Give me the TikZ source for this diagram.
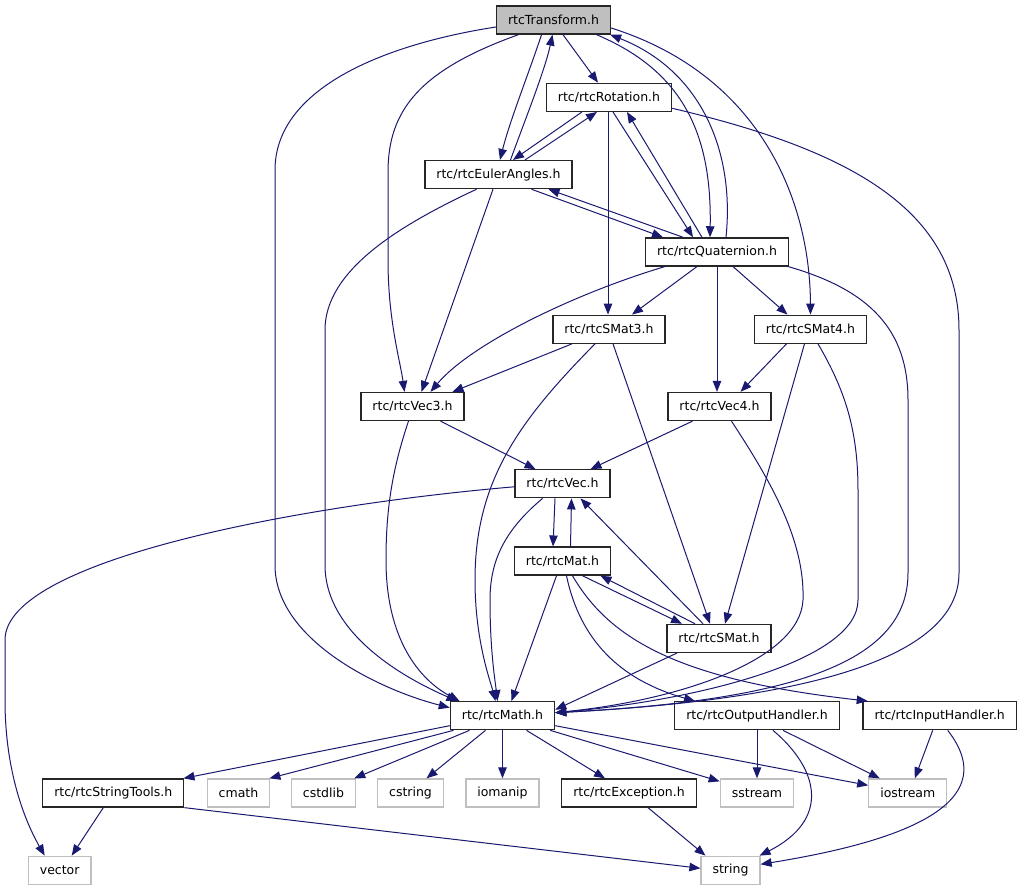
\documentclass[tikz,border=0pt]{standalone}
\usepackage{fontspec}
\setmainfont{DejaVu Sans}
\usetikzlibrary{arrows.meta}
\definecolor{edgeblue}{HTML}{191970}
\definecolor{sysgray}{HTML}{BFBFBF}
\tikzset{
  font=\fontsize{12.5}{15}\selectfont,
  hfile/.style={draw=black!85, line width=1.3pt, rectangle, minimum height=28pt, inner xsep=11.5pt, inner ysep=0pt},
  mainfile/.style={hfile, fill=sysgray},
  sysfile/.style={hfile, draw=sysgray},
  dep/.style={draw=edgeblue, line width=1pt, -{Triangle[length=11pt,width=8.5pt]}}
}
\begin{document}
\begin{tikzpicture}[x=1pt, y=-1pt]
        \useasboundingbox (0,0) rectangle (1021,891);
        \node[mainfile] (transform) at (553.5,20) {rtcTransform.h};
        \node[hfile] (rotation) at (609,97.3) {rtc/rtcRotation.h};
        \node[hfile] (eulerangles) at (498.5,174.6) {rtc/rtcEulerAngles.h};
        \node[hfile] (quaternion) at (717,251.9) {rtc/rtcQuaternion.h};
        \node[hfile] (smat3) at (609,329.2) {rtc/rtcSMat3.h};
        \node[hfile] (smat4) at (810.5,329.2) {rtc/rtcSMat4.h};
        \node[hfile] (vec3) at (412.5,406.5) {rtc/rtcVec3.h};
        \node[hfile] (vec4) at (719.5,406.5) {rtc/rtcVec4.h};
        \node[hfile] (vec) at (562.5,483.8) {rtc/rtcVec.h};
        \node[hfile] (mat) at (562.5,561.1) {rtc/rtcMat.h};
        \node[hfile] (smat) at (719,638.4) {rtc/rtcSMat.h};
        \node[hfile] (math) at (502.5,715.7) {rtc/rtcMath.h};
        \node[hfile] (outhandler) at (757,715.7) {rtc/rtcOutputHandler.h};
        \node[hfile] (inhandler) at (939.7,715.7) {rtc/rtcInputHandler.h};
        \node[hfile] (stringtools) at (113.3,793) {rtc/rtcStringTools.h};
        \node[sysfile] (cmath) at (238.5,793) {cmath};
        \node[sysfile] (cstdlib) at (323.5,793) {cstdlib};
        \node[sysfile] (cstring) at (410.5,793) {cstring};
        \node[sysfile] (iomanip) at (502.5,793) {iomanip};
        \node[hfile] (exception) at (629,793) {rtc/rtcException.h};
        \node[sysfile] (sstream) at (757,793) {sstream};
        \node[sysfile] (iostream) at (907.8,793) {iostream};
        \node[sysfile] (vector) at (59.7,870.3) {vector};
        \node[sysfile] (string) at (730.5,870.3) {string};

        % rtcTransform.h
        \draw[dep] ([yshift=-7pt]transform.west) .. controls (380,45) and (275,90) .. (275,170) -- (275,565)
          .. controls (275,640) and (380,690) .. ([yshift=8pt]math.west);
        \draw[dep] ([xshift=-35pt]transform.south) .. controls (420,70) and (388,110) .. (388,172) -- (388,260)
          .. controls (388,320) and (400,360) .. ([xshift=-8pt]vec3.north);
        \draw[dep] ([xshift=-12pt]transform.south) .. controls (530,70) and (510,120) .. ([xshift=1.5pt]eulerangles.north);
        \draw[dep] ([xshift=12pt]eulerangles.north) .. controls (525,120) and (545,70) .. ([xshift=-1pt]transform.south);
        \draw[dep] ([xshift=9.5pt]transform.south) -- ([xshift=-11pt]rotation.north);
        \draw[dep] ([xshift=43pt]transform.south) .. controls (680,70) and (712,130) .. ([xshift=-7pt]quaternion.north);
        \draw[dep] ([xshift=9pt]quaternion.north) .. controls (735,150) and (700,70) .. ([xshift=-1pt]transform.south east);
        \draw[dep] ([yshift=-8pt]transform.east) .. controls (760,75) and (810,200) .. (smat4.north);

        % rtcRotation.h
        \draw[dep] ([xshift=-27pt]rotation.south) -- ([xshift=14.5pt]eulerangles.north);
        \draw[dep] ([xshift=26.5pt]eulerangles.north) -- ([xshift=-12pt]rotation.south);
        \draw[dep] ([xshift=4pt]rotation.south) -- ([xshift=-24pt]quaternion.north);
        \draw[dep] ([xshift=-15pt]quaternion.north) -- ([xshift=18pt]rotation.south);
        \draw[dep] ([xshift=-1pt]rotation.south) -- ([xshift=-1pt]smat3.north);
        \draw[dep] ([yshift=-11pt]rotation.east) .. controls (850,150) and (959,210) .. (959,330) -- (959,573)
          .. controls (959,660) and (800,700) .. ([yshift=3pt]math.east);

        % rtcEulerAngles.h
        \draw[dep] ([xshift=33pt]eulerangles.south) -- ([xshift=-54pt]quaternion.north);
        \draw[dep] ([xshift=-34pt]quaternion.north) -- ([xshift=50pt]eulerangles.south);
        \draw[dep] ([xshift=-22pt]eulerangles.south) .. controls (400,225) and (325,270) .. (325,330) -- (325,565)
          .. controls (325,640) and (420,685) .. ([xshift=-45pt]math.north);
        \draw[dep] ([xshift=-5.5pt]eulerangles.south) -- ([xshift=9pt]vec3.north);

        % rtcQuaternion.h
        \draw[dep] ([xshift=-52pt]quaternion.south) .. controls (570,295) and (470,345) .. ([xshift=18pt]vec3.north);
        \draw[dep] ([xshift=-20pt]quaternion.south) -- ([xshift=23pt]smat3.north);
        \draw[dep] (quaternion.south) -- ([xshift=-2.5pt]vec4.north);
        \draw[dep] ([xshift=16pt]quaternion.south) -- ([xshift=-23pt]smat4.north);
        \draw[dep] ([xshift=-1pt]quaternion.south east) .. controls (870,290) and (908,330) .. (908,400) -- (908,573)
          .. controls (908,660) and (800,700) .. ([yshift=3pt]math.east);

        % rtcSMat3.h, rtcSMat4.h
        \draw[dep] ([xshift=-37pt]smat3.south) -- ([xshift=40pt]vec3.north);
        \draw[dep] ([xshift=-14pt]smat3.south) .. controls (520,420) and (475,480) .. (475,580)
          .. controls (475,640) and (490,680) .. ([xshift=-7pt]math.north);
        \draw[dep] ([xshift=4pt]smat3.south) -- ([xshift=-9pt]smat.north);
        \draw[dep] ([xshift=-24pt]smat4.south) -- ([xshift=21pt]vec4.north);
        \draw[dep] ([xshift=-6pt]smat4.south) -- ([xshift=6pt]smat.north);
        \draw[dep] ([xshift=7.5pt]smat4.south) .. controls (845,390) and (858,430) .. (858,490) -- (858,600)
          .. controls (858,660) and (700,700) .. ([yshift=3pt]math.east);

        % rtcVec3.h, rtcVec4.h
        \draw[dep] ([xshift=28pt]vec3.south) -- ([xshift=-27pt]vec.north);
        \draw[dep] ([xshift=-4pt]vec3.south) .. controls (392,470) and (386,510) .. (386,560)
          .. controls (386,640) and (420,680) .. ([xshift=-43pt]math.north);
        \draw[dep] ([xshift=-27pt]vec4.south) -- ([xshift=28pt]vec.north);
        \draw[dep] ([xshift=12pt]vec4.south) .. controls (770,480) and (805,540) .. (803,600)
          .. controls (800,660) and (680,700) .. ([yshift=3pt]math.east);

        % rtcVec.h, rtcMat.h, rtcSMat.h
        \draw[dep] ([yshift=-3pt]vec.west) .. controls (300,505) and (5,560) .. (5,640) -- (5,700)
          .. controls (5,780) and (30,830) .. ([xshift=-15pt]vector.north);
        \draw[dep] ([xshift=-7.5pt]vec.south) -- ([xshift=-9.5pt]mat.north);
        \draw[dep] ([xshift=8pt]mat.north) -- ([xshift=9pt]vec.south);
        \draw[dep] ([xshift=-20pt]vec.south) .. controls (505,530) and (490,560) .. (490,600)
          .. controls (490,650) and (495,680) .. ([xshift=-5pt]math.north);
        \draw[dep] ([xshift=-6pt]mat.south) -- ([xshift=9pt]math.north);
        \draw[dep] ([xshift=20pt]mat.south) -- ([xshift=-37pt]smat.north);
        \draw[dep] ([xshift=-24pt]smat.north) -- ([xshift=38pt]mat.south);
        \draw[dep] ([xshift=4pt]mat.south) .. controls (580,640) and (620,680) .. ([xshift=-62pt]outhandler.north);
        \draw[dep] ([xshift=10pt]mat.south) .. controls (610,640) and (680,680) .. ([xshift=-72pt]inhandler.north);
        \draw[dep] ([xshift=-16pt]smat.north) -- ([xshift=18pt]vec.south);
        \draw[dep] ([xshift=-42pt]smat.south) -- ([yshift=6pt]math.east);

        % rtcMath.h
        \draw[dep] ([yshift=-10pt]math.west) -- ([xshift=-1pt]stringtools.north east);
        \draw[dep] ([xshift=-49pt]math.south) -- ([xshift=-1pt]cmath.north east);
        \draw[dep] ([xshift=-33pt]math.south) -- ([xshift=-2pt]cstdlib.north east);
        \draw[dep] ([xshift=-17pt]math.south) -- ([xshift=16pt]cstring.north);
        \draw[dep] (math.south) -- (iomanip.north);
        \draw[dep] ([xshift=24pt]math.south) -- ([xshift=-24pt]exception.north);
        \draw[dep] ([xshift=-5pt]math.south east) -- ([yshift=-3pt]sstream.north west);
        \draw[dep] ([yshift=-10pt]math.east) -- ([yshift=-7pt]iostream.north west);

        % handlers and the rest
        \draw[dep] (outhandler.south) -- (sstream.north);
        \draw[dep] ([xshift=26pt]outhandler.south) -- ([xshift=-28pt]iostream.north);
        \draw[dep] ([xshift=16pt]outhandler.south) .. controls (820,770) and (830,820) .. ([xshift=-1pt]string.north east);
        \draw[dep] ([xshift=-7pt]inhandler.south) -- ([xshift=7pt]iostream.north);
        \draw[dep] ([xshift=8pt]inhandler.south) .. controls (1010,810) and (880,845) .. ([yshift=6pt]string.east);
        \draw[dep] ([xshift=-10pt]stringtools.south) -- ([xshift=12pt]vector.north);
        \draw[dep] (stringtools.south east) -- ([yshift=2pt]string.west);
        \draw[dep] ([xshift=19pt]exception.south) -- ([xshift=-25pt]string.north);
      \end{tikzpicture}
\end{document}
